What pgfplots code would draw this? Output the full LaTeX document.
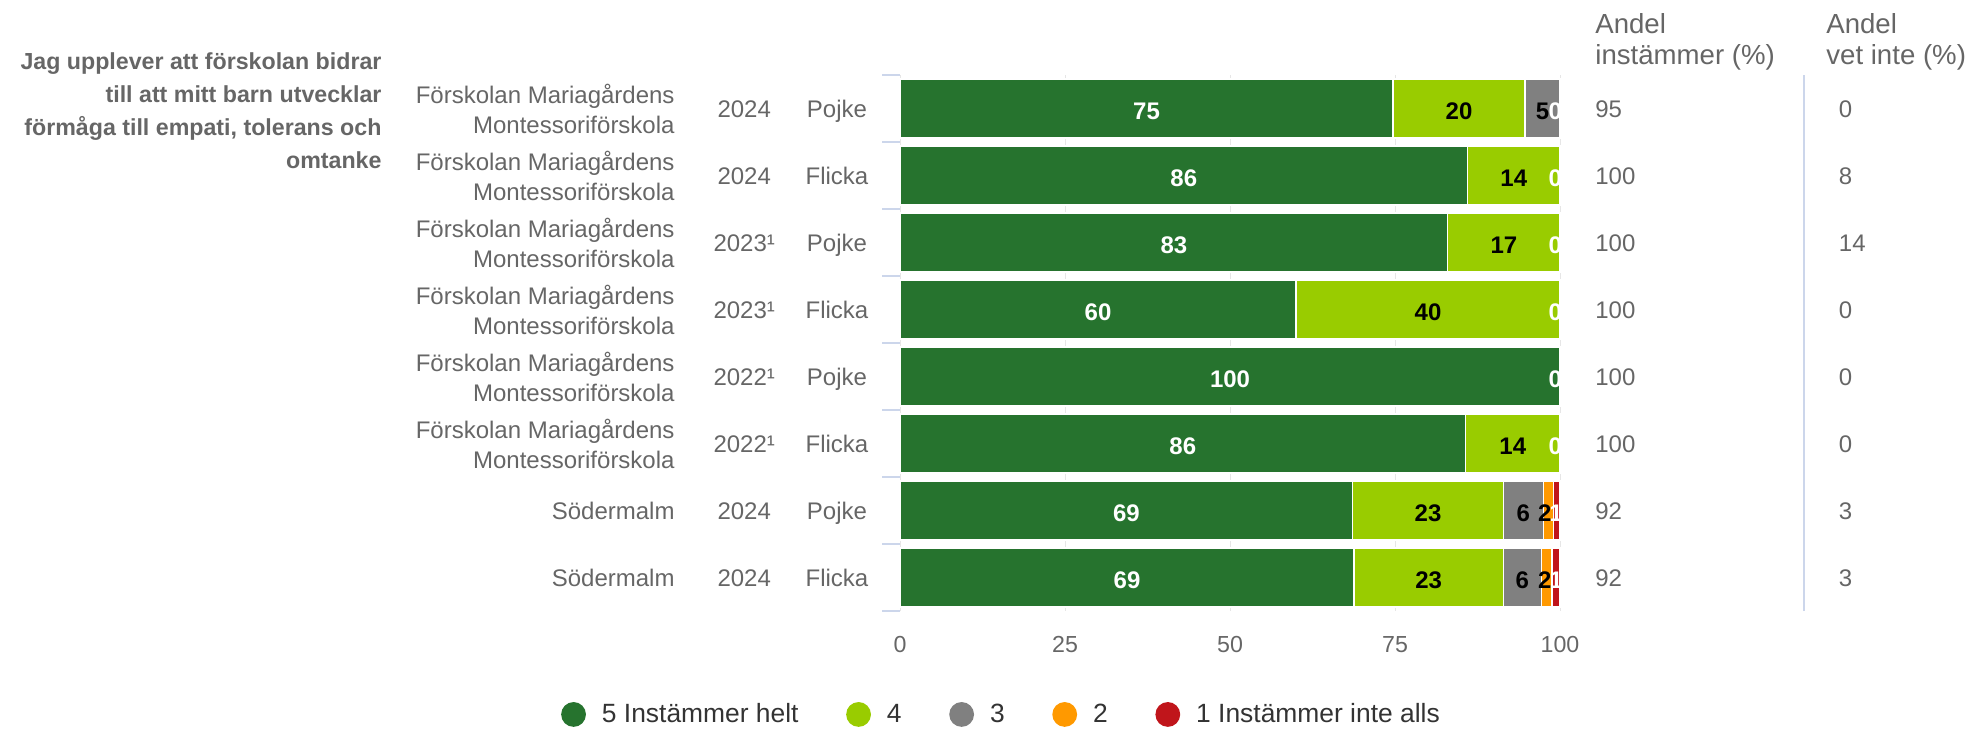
\documentclass[border=0pt]{standalone}
\usepackage{pgfplots}
\pgfplotsset{compat=1.18}
\usepackage{pgfplotstable}
\usepackage{fontspec}
\setmainfont{Liberation Sans}
\definecolor{c5}{HTML}{26732E}
\definecolor{c4}{HTML}{99CC00}
\definecolor{c3}{HTML}{808080}
\definecolor{c2}{HTML}{FF9900}
\definecolor{c1}{HTML}{C0151B}
\definecolor{txt}{HTML}{666666}
\definecolor{dtxt}{HTML}{333333}
\definecolor{axblue}{HTML}{CCD6EB}
\definecolor{gridc}{HTML}{E6E6E6}

% y = 7 is the top row
\pgfplotstableread{
y a5 a4 a3 a2 a1
7 74.7 20.0 5.3 0 0
6 86.0 14.0 0 0 0
5 83.0 17.0 0 0 0
4 60.0 40.0 0 0 0
3 100 0 0 0 0
2 85.7 14.3 0 0 0
1 68.6 22.8 6.1 1.5 1.0
0 68.8 22.6 5.8 1.6 1.2
}\datatab

\pgfplotstableread{
x y lab
37.35 7 75
43.0 6 86
41.5 5 83
30.0 4 60
50.0 3 100
42.85 2 86
34.3 1 69
34.4 0 69
99.3 7 0
99.3 6 0
99.3 5 0
99.3 4 0
99.3 3 0
99.3 2 0
99.4 1 1
99.4 0 1
}\whitelab

\pgfplotstableread{
x y lab
84.7 7 20
97.35 7 5
93.0 6 14
91.5 5 17
80.0 4 40
92.85 2 14
80.0 1 23
94.45 1 6
97.7 1 2
80.1 0 23
94.3 0 6
97.7 0 2
}\blacklab

\newcommand{\lf}{\fontsize{12}{15}\selectfont}
\newcommand{\hf}{\fontsize{13.8}{15.5}\selectfont}
\newcommand{\mg}{Förskolan Mariagårdens\\Montessoriförskola}

\tikzset{
  lab/.style={font=\lf, text=txt, inner sep=0pt, text height=8.6pt, text depth=0pt},
  val/.style={anchor=west, font=\lf, text=txt, inner sep=0pt, text height=8.6pt, text depth=0pt},
}

\pgfplotsset{base/.style={
  at={(450pt,59pt)}, anchor=south west,
  scale only axis, width=330pt, height=268pt,
  xmin=0, xmax=100, ymin=-0.5, ymax=7.5,
}}

\begin{document}
\begin{tikzpicture}
\useasboundingbox (0,0) rectangle (984pt,364.5pt);
\begin{axis}[base,
  xbar stacked, bar width=0.88, clip=false,
  axis y line*=left, axis x line*=bottom,
  x axis line style={draw=none}, y axis line style={draw=gridc},
  xmajorgrids, grid style={gridc, line width=0.5pt},
  xtick={0,25,50,75,100}, xtick style={draw=none}, xtick align=inside,
  ytick={-0.5,0.5,1.5,2.5,3.5,4.5,5.5,6.5,7.5}, yticklabels={},
  ytick align=outside, major tick length=8.8pt,
  ytick style={draw=axblue, line width=0.8pt},
  /pgf/number format/assume math mode=true,
  xticklabel style={font=\fontsize{11.6}{13}\selectfont, text=txt, yshift=-9pt},
  legend columns=5,
  legend image code/.code={\fill[#1, draw=none] (6.2pt,0pt) circle (6.2pt);},
  legend style={at={(-0.514,-0.193)}, anchor=west, draw=none, fill=none,
    inner sep=0pt, font=\fontsize{13.2}{15}\selectfont, text=dtxt,
    /tikz/every odd column/.append style={column sep=6pt},
    /tikz/every even column/.append style={column sep=21.8pt}},
]
\addplot[fill=c5, draw=white, line width=0.6pt] table[x=a5, y=y] {\datatab};
\addlegendentry{5 Instämmer helt}
\addplot[fill=c4, draw=white, line width=0.6pt] table[x=a4, y=y] {\datatab};
\addlegendentry{4}
\addplot[fill=c3, draw=white, line width=0.6pt] table[x=a3, y=y] {\datatab};
\addlegendentry{3}
\addplot[fill=c2, draw=white, line width=0.6pt] table[x=a2, y=y] {\datatab};
\addlegendentry{2}
\addplot[fill=c1, draw=white, line width=0.6pt] table[x=a1, y=y] {\datatab};
\addlegendentry{1 Instämmer inte alls}

% title
\node[anchor=east, align=right, font=\bfseries\fontsize{11.6}{16.5}\selectfont, text=txt, inner sep=0pt]
  at (axis cs:-78.5,6.96) {Jag upplever att förskolan bidrar\\till att mitt barn utvecklar\\förmåga till empati, tolerans och\\omtanke};

% category names
\node[anchor=east, align=right, font=\lf, text=txt, inner sep=0pt] at (axis cs:-34.1,7) {\mg};
\node[anchor=east, align=right, font=\lf, text=txt, inner sep=0pt] at (axis cs:-34.1,6) {\mg};
\node[anchor=east, align=right, font=\lf, text=txt, inner sep=0pt] at (axis cs:-34.1,5) {\mg};
\node[anchor=east, align=right, font=\lf, text=txt, inner sep=0pt] at (axis cs:-34.1,4) {\mg};
\node[anchor=east, align=right, font=\lf, text=txt, inner sep=0pt] at (axis cs:-34.1,3) {\mg};
\node[anchor=east, align=right, font=\lf, text=txt, inner sep=0pt] at (axis cs:-34.1,2) {\mg};
\node[lab, anchor=east] at (axis cs:-34.1,1) {Södermalm};
\node[lab, anchor=east] at (axis cs:-34.1,0) {Södermalm};

% years
\node[lab] at (axis cs:-23.6,7) {2024};
\node[lab] at (axis cs:-23.6,6) {2024};
\node[lab] at (axis cs:-23.6,5) {2023¹};
\node[lab] at (axis cs:-23.6,4) {2023¹};
\node[lab] at (axis cs:-23.6,3) {2022¹};
\node[lab] at (axis cs:-23.6,2) {2022¹};
\node[lab] at (axis cs:-23.6,1) {2024};
\node[lab] at (axis cs:-23.6,0) {2024};

% sex
\node[lab] at (axis cs:-9.55,7) {Pojke};
\node[lab] at (axis cs:-9.55,6) {Flicka};
\node[lab] at (axis cs:-9.55,5) {Pojke};
\node[lab] at (axis cs:-9.55,4) {Flicka};
\node[lab] at (axis cs:-9.55,3) {Pojke};
\node[lab] at (axis cs:-9.55,2) {Flicka};
\node[lab] at (axis cs:-9.55,1) {Pojke};
\node[lab] at (axis cs:-9.55,0) {Flicka};

% headers
\node[anchor=west, align=left, font=\hf, text=txt, inner sep=0pt] at (axis cs:105.3,8.0) {Andel\\instämmer (\%)};
\node[anchor=west, align=left, font=\hf, text=txt, inner sep=0pt] at (axis cs:140.3,8.0) {Andel\\vet inte (\%)};
\draw[axblue, line width=0.8pt] (axis cs:137,-0.5) -- (axis cs:137,7.5);

% Andel instämmer
\node[val] at (axis cs:105.3,7) {95};
\node[val] at (axis cs:105.3,6) {100};
\node[val] at (axis cs:105.3,5) {100};
\node[val] at (axis cs:105.3,4) {100};
\node[val] at (axis cs:105.3,3) {100};
\node[val] at (axis cs:105.3,2) {100};
\node[val] at (axis cs:105.3,1) {92};
\node[val] at (axis cs:105.3,0) {92};
% Andel vet inte
\node[val] at (axis cs:142.2,7) {0};
\node[val] at (axis cs:142.2,6) {8};
\node[val] at (axis cs:142.2,5) {14};
\node[val] at (axis cs:142.2,4) {0};
\node[val] at (axis cs:142.2,3) {0};
\node[val] at (axis cs:142.2,2) {0};
\node[val] at (axis cs:142.2,1) {3};
\node[val] at (axis cs:142.2,0) {3};
\end{axis}

\begin{axis}[base, hide axis]
\addplot[draw=none, mark=none,
  nodes near coords, point meta=explicit symbolic,
  every node near coord/.append style={anchor=center, text=white, inner sep=0pt, yshift=-1pt,
    font=\bfseries\fontsize{12}{14}\selectfont, text height=8.6pt, text depth=0pt}]
  table[x=x, y=y, meta=lab] {\whitelab};
\addplot[draw=none, mark=none,
  nodes near coords, point meta=explicit symbolic,
  every node near coord/.append style={anchor=center, text=black, inner sep=0pt, yshift=-1pt,
    font=\bfseries\fontsize{12}{14}\selectfont, text height=8.6pt, text depth=0pt}]
  table[x=x, y=y, meta=lab] {\blacklab};
\end{axis}
\end{tikzpicture}
\end{document}
